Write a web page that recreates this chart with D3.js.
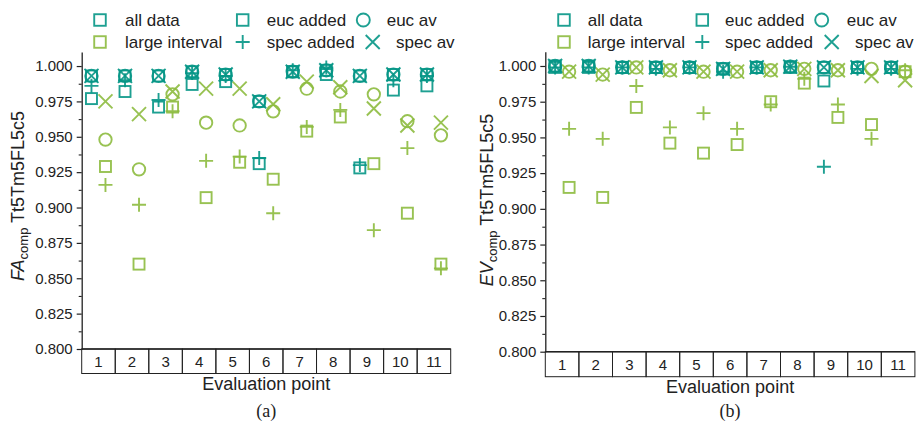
<!DOCTYPE html>
<html><head><meta charset="utf-8">
<script src="https://cdn.jsdelivr.net/npm/d3@7"></script>
<style>body{margin:0;background:#fff}</style>
</head><body>
<svg id="c" width="917" height="429"></svg>
<script>
// ---------- data ----------
const points = ["1","2","3","4","5","6","7","8","9","10","11"];
const yTicks = [0.800,0.825,0.850,0.875,0.900,0.925,0.950,0.975,1.000];
const yMinor = [0.8125,0.8375,0.8625,0.8875,0.9125,0.9375,0.9625,0.9875];

// (a) FA_comp  — teal column
const faAllData   = [0.993,0.993,0.993,0.996,0.994,0.975,0.996,0.997,0.993,0.994,0.994];
const faEucAdded  = [0.977,0.982,0.971,0.987,0.989,0.931,0.996,0.994,0.928,0.983,0.986];
const faEucAv     = [0.993,0.993,0.993,0.996,0.994,0.975,0.996,0.997,0.993,0.994,0.994];
const faSpecAdded = [0.986,0.990,0.976,0.995,0.993,0.935,0.997,0.999,0.930,0.990,0.993];
const faSpecAv    = [0.993,0.993,0.993,0.996,0.994,0.975,0.996,0.997,0.993,0.994,0.994];
// (a) FA_comp  — large interval column
const faLiData      = [0.929,0.860,0.971,0.907,0.932,0.920,0.954,0.964,0.931,0.896,0.860];
const faLiEucAv     = [0.948,0.927,0.980,0.960,0.958,0.968,0.984,0.982,0.980,0.961,0.951];
const faLiSpecAdded = [0.916,0.902,0.968,0.933,0.936,0.896,0.957,0.969,0.884,0.942,0.857];
const faLiSpecAv    = [0.975,0.966,0.982,0.984,0.984,0.973,0.989,0.985,0.970,0.958,0.960];

// (b) EV_comp  — teal column
const evAllData   = [1.000,1.000,0.999,0.999,0.999,0.998,0.999,0.9995,0.999,0.999,0.999];
const evEucAdded  = [0.999,0.999,0.999,0.999,0.999,0.998,0.999,0.999,0.9895,0.999,0.999];
const evEucAv     = [1.000,1.000,0.999,0.999,0.999,0.998,0.999,0.9995,0.999,0.999,0.999];
const evSpecAdded = [0.999,0.999,0.999,0.998,0.999,0.996,0.999,0.9995,0.9295,0.998,0.998];
const evSpecAv    = [1.000,1.000,0.999,0.999,0.999,0.998,0.999,0.9995,0.999,0.999,0.999];
// (b) EV_comp  — large interval column
const evLiData      = [0.915,0.908,0.971,0.946,0.939,0.945,0.975,0.988,0.964,0.959,0.996];
const evLiEucAv     = [0.996,0.994,0.999,0.997,0.996,0.996,0.997,0.998,0.997,0.998,0.996];
const evLiSpecAdded = [0.956,0.949,0.986,0.957,0.967,0.956,0.973,0.991,0.973,0.949,0.997];
const evLiSpecAv    = [0.996,0.994,0.999,0.997,0.996,0.996,0.997,0.998,0.997,0.993,0.990];

const legendLabels = ["all data","large interval","euc added","euc av","spec added","spec av"];

// ---------- style ----------
const TEAL = "#069686", GREEN = "#8dbb3f", INK = "#222";
const FONT = "'Liberation Sans', Arial, sans-serif";

const svg = d3.select("#c");

function marker(g, shape, color, x, y, big) {
  const s = big ? 1.05 : 1;
  const st = {stroke: color, "stroke-width": 1.9, fill: "none", "stroke-opacity": 0.9};
  let el;
  if (shape === "square") {
    el = g.append("rect").attr("x", x - 5.5*s).attr("y", y - 5.5*s).attr("width", 11*s).attr("height", 11*s);
  } else if (shape === "circle") {
    el = g.append("circle").attr("cx", x).attr("cy", y).attr("r", 6.2*s);
  } else if (shape === "plus") {
    el = g.append("path").attr("d", `M${x-7},${y}H${x+7}M${x},${y-7}V${y+7}`);
  } else {
    el = g.append("path").attr("d", `M${x-7},${y-7}L${x+7},${y+7}M${x+7},${y-7}L${x-7},${y+7}`);
  }
  for (const k in st) el.attr(k, st[k]);
}

function panel(cfg) {
  const g = svg.append("g");
  const x = d3.scaleBand().domain(points).range([cfg.x0, cfg.x1]).padding(0);
  const y = d3.scaleLinear().domain([0.8, 1.01]).range([cfg.yBottom, cfg.yTop]);

  // y axis (major)
  const ax = g.append("g").attr("transform", `translate(${cfg.x0},0)`)
    .call(d3.axisLeft(y).tickValues(yTicks).tickFormat(d3.format(".3f")).tickSize(5).tickSizeOuter(0).tickPadding(4));
  ax.select(".domain").attr("stroke", INK).attr("stroke-width", 1.3);
  ax.selectAll(".tick line").attr("stroke", INK).attr("stroke-width", 1.2);
  ax.selectAll("text").attr("font-family", FONT).attr("font-size", 15).attr("fill", INK);
  // minor ticks
  const mn = g.append("g").attr("transform", `translate(${cfg.x0},0)`)
    .call(d3.axisLeft(y).tickValues(yMinor).tickFormat("").tickSize(3).tickSizeOuter(0));
  mn.select(".domain").remove();
  mn.selectAll(".tick line").attr("stroke", INK).attr("stroke-width", 1.1);

  // category boxes
  const bx = g.append("g");
  bx.selectAll("rect").data(points).join("rect")
    .attr("x", d => x(d)).attr("y", cfg.yBottom).attr("width", x.bandwidth()).attr("height", cfg.boxH)
    .attr("fill", "none").attr("stroke", INK).attr("stroke-width", 1);
  bx.append("line").attr("x1", cfg.x0).attr("x2", cfg.x1).attr("y1", cfg.yBottom).attr("y2", cfg.yBottom)
    .attr("stroke", INK).attr("stroke-width", 1.6);
  bx.selectAll("text").data(points).join("text")
    .attr("x", d => x(d) + x.bandwidth()/2).attr("y", cfg.yBottom + cfg.boxH/2 + 5.5)
    .attr("text-anchor", "middle").attr("font-family", FONT).attr("font-size", 15).attr("fill", INK)
    .text(d => d);

  // axis titles
  const cx = (cfg.x0 + cfg.x1) / 2;
  g.append("text").attr("x", cx).attr("y", cfg.xTitleY).attr("text-anchor", "middle")
    .attr("font-family", FONT).attr("font-size", 18).attr("fill", INK).text("Evaluation point");
  const yt = g.append("text").attr("transform", `translate(${cfg.yTitleX},${cfg.yTitleC}) rotate(-90)`)
    .attr("text-anchor", "middle").attr("font-family", FONT).attr("font-size", 18).attr("fill", INK);
  yt.append("tspan").attr("font-style", "italic").text(cfg.yVar);
  yt.append("tspan").attr("font-size", 13).attr("dy", 4).text("comp");
  yt.append("tspan").attr("dy", -4).text(" Tt5Tm5FL5c5");

  g.append("text").attr("x", cx).attr("y", 417).attr("text-anchor", "middle")
    .attr("font-family", "'Liberation Serif', 'Times New Roman', serif").attr("font-size", 18).attr("fill", INK)
    .text(cfg.tag);

  // marks
  const mk = g.append("g");
  cfg.series.forEach(s => {
    s.values.forEach((v, i) => {
      const px = x(points[i]) + x.bandwidth()/2 + s.off;
      marker(mk, s.shape, s.color, px, y(v));
    });
  });

  // legend
  const L = cfg.legend;
  const lg = g.append("g");
  const entries = [
    {shape:"square", color:TEAL,  mx:L[0], tx:L[1], row:0, label:legendLabels[0]},
    {shape:"square", color:GREEN, mx:L[0], tx:L[1], row:1, label:legendLabels[1]},
    {shape:"square", color:TEAL,  mx:L[2], tx:L[3], row:0, label:legendLabels[2]},
    {shape:"plus",   color:TEAL,  mx:L[2], tx:L[3], row:1, label:legendLabels[4]},
    {shape:"circle", color:TEAL,  mx:L[4], tx:L[5], row:0, label:legendLabels[3]},
    {shape:"cross",  color:TEAL,  mx:L[6], tx:L[7], row:1, label:legendLabels[5]},
  ];
  entries.forEach(e => {
    const cy = e.row === 0 ? 20 : 42;
    marker(lg, e.shape, e.color, cfg.x0 + e.mx, cy, true);
    lg.append("text").attr("x", cfg.x0 + e.tx).attr("y", cy + 6)
      .attr("font-family", FONT).attr("font-size", 17).attr("fill", INK).text(e.label);
  });
}

function seriesSet(all, eAdd, eAv, sAdd, sAv, liD, liEAv, liSAdd, liSAv) {
  return [
    {shape:"square", color:GREEN, off: 7, values: liD},
    {shape:"circle", color:GREEN, off: 7, values: liEAv},
    {shape:"plus",   color:GREEN, off: 7, values: liSAdd},
    {shape:"cross",  color:GREEN, off: 7, values: liSAv},
    {shape:"square", color:TEAL, off: -7, values: eAdd},
    {shape:"square", color:TEAL, off: -7, values: all},
    {shape:"circle", color:TEAL, off: -7, values: eAv},
    {shape:"plus",   color:TEAL, off: -7, values: sAdd},
    {shape:"cross",  color:TEAL, off: -7, values: sAv},
  ];
}

panel({
  x0: 81.7, x1: 450.7, yBottom: 349, yTop: 51.9, boxH: 24.5,
  xTitleY: 390, yTitleX: 24, yTitleC: 196, yVar: "FA", tag: "(a)",
  legend: [18.3, 43.3, 161, 185, 281.6, 305, 291, 314.3],
  series: seriesSet(faAllData, faEucAdded, faEucAv, faSpecAdded, faSpecAv,
                    faLiData, faLiEucAv, faLiSpecAdded, faLiSpecAv)
});
panel({
  x0: 545.3, x1: 914.9, yBottom: 351.7, yTop: 51.7, boxH: 25,
  xTitleY: 393, yTitleX: 493, yTitleC: 200, yVar: "EV", tag: "(b)",
  legend: [18.7, 42.4, 157, 179.7, 276.4, 301.4, 286.4, 309.7],
  series: seriesSet(evAllData, evEucAdded, evEucAv, evSpecAdded, evSpecAv,
                    evLiData, evLiEucAv, evLiSpecAdded, evLiSpecAv)
});
</script>
</body></html>
